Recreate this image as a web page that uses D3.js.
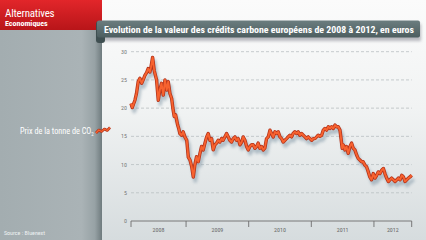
<!DOCTYPE html>
<html>
<head>
<meta charset="utf-8">
<script src="https://cdn.jsdelivr.net/npm/d3@7"></script>
<style>
  html, body { margin: 0; padding: 0; overflow: hidden; background: #fff; }
</style>
</head>
<body>
<div id="chart"></div>
<script>
// Prix de la tonne de CO2 (euros)
const dates = [
  "2008-02-15","2008-02-22","2008-03-09","2008-03-18","2008-03-28","2008-04-07","2008-04-17","2008-04-26",
  "2008-05-06","2008-05-16","2008-05-25","2008-06-04","2008-06-10","2008-06-20","2008-06-29","2008-07-13",
  "2008-07-23","2008-08-01","2008-08-11","2008-08-21","2008-08-31","2008-09-10","2008-09-19","2008-09-29",
  "2008-10-09","2008-10-16","2008-10-24","2008-11-01","2008-11-13","2008-11-20","2008-11-26","2008-12-06",
  "2008-12-15","2008-12-25",
  "2009-01-05","2009-01-14","2009-01-24","2009-02-03","2009-02-12","2009-02-21","2009-03-03","2009-03-13",
  "2009-03-23","2009-04-01","2009-04-11","2009-04-21","2009-05-01","2009-05-10","2009-05-20","2009-05-30",
  "2009-06-08","2009-06-18","2009-06-28","2009-07-07","2009-07-17","2009-07-27","2009-08-05","2009-08-15",
  "2009-08-25","2009-09-04","2009-09-13","2009-09-23","2009-10-03","2009-10-13","2009-10-22","2009-11-01",
  "2009-11-11","2009-11-21","2009-11-30","2009-12-10","2009-12-20","2009-12-29",
  "2010-01-08","2010-01-18","2010-01-27","2010-02-06","2010-02-16","2010-02-25","2010-03-07","2010-03-17",
  "2010-03-27","2010-04-05","2010-04-15","2010-04-25","2010-05-05","2010-05-14","2010-05-24","2010-06-03",
  "2010-06-13","2010-06-22","2010-07-02","2010-07-12","2010-07-21","2010-07-31","2010-08-10","2010-08-19",
  "2010-08-29","2010-09-08","2010-09-17","2010-09-27","2010-10-07","2010-10-17","2010-10-26","2010-11-05",
  "2010-11-15","2010-11-25","2010-12-04","2010-12-14","2010-12-24",
  "2011-01-03","2011-01-12","2011-01-22","2011-02-01","2011-02-10","2011-02-20","2011-03-02","2011-03-12",
  "2011-03-21","2011-03-31","2011-04-10","2011-04-19","2011-04-29","2011-05-09","2011-05-19","2011-05-28",
  "2011-06-07","2011-06-17","2011-06-22","2011-06-30","2011-07-06","2011-07-16","2011-07-25","2011-08-04",
  "2011-08-14","2011-08-24","2011-09-02","2011-09-12","2011-09-22","2011-10-01","2011-10-11","2011-10-21",
  "2011-10-30","2011-11-09","2011-11-19","2011-11-29","2011-12-08","2011-12-18","2011-12-28",
  "2012-01-07","2012-01-17","2012-01-26","2012-02-05","2012-02-15","2012-02-25","2012-03-05","2012-03-15",
  "2012-03-25","2012-04-03","2012-04-13","2012-04-23","2012-05-03","2012-05-13","2012-05-22","2012-06-01",
  "2012-06-11","2012-06-21","2012-06-30","2012-07-10","2012-07-20","2012-07-29","2012-08-08"
];
const prices = [
  20.8, 20.1, 21.4, 22.6, 24.7, 25.3, 24.4, 25.0,
  25.8, 26.3, 27.0, 26.4, 27.2, 29.0, 26.7, 25.0,
  21.4, 23.2, 24.4, 22.3, 25.0, 23.2, 24.7, 22.6,
  21.7, 20.0, 18.5, 18.8, 17.0, 16.3, 15.5, 15.2,
  15.8, 14.9,
  14.3, 11.3, 10.8, 9.6, 7.8, 9.9, 11.4, 10.5,
  12.0, 13.2, 12.6, 13.8, 14.9, 15.5, 14.3, 14.6,
  12.6, 13.5, 13.8, 14.3, 14.0, 14.6, 14.3, 14.9,
  15.5, 14.9, 14.3, 14.0, 14.6, 14.9, 14.3, 14.6,
  13.5, 14.0, 14.9, 14.3, 13.2, 12.6,
  13.2, 13.5, 13.5, 12.9, 13.2, 13.8, 12.9, 13.2,
  12.6, 12.9, 14.6, 14.9, 16.1, 15.5, 14.9, 15.8,
  15.5, 15.8, 14.9, 14.6, 14.0, 14.3, 14.6, 14.9,
  15.2, 14.9, 15.5, 15.8, 15.5, 15.8, 15.2, 15.5,
  15.2, 14.9, 14.6, 14.9, 14.6,
  14.3, 14.6, 14.6, 14.9, 15.2, 15.0, 15.2, 16.1,
  16.4, 16.1, 16.7, 16.4, 16.7, 16.4, 17.0, 16.7,
  16.7, 16.1, 14.9, 12.9, 13.5, 12.6, 13.2, 12.0,
  13.2, 13.8, 12.9, 12.6, 11.7, 11.1, 10.8, 10.5,
  10.5, 9.9, 9.6, 8.7, 7.8, 7.3, 8.4,
  7.6, 8.1, 8.7, 8.4, 9.0, 9.3, 8.4, 7.6,
  7.0, 7.3, 7.6, 7.3, 7.0, 7.3, 7.6, 7.3,
  8.1, 7.8, 7.0, 7.3, 7.6, 7.8, 8.1
];
const yTicks = [0, 5, 10, 15, 20, 25, 30];
const yearLabels = ["2008", "2009", "2010", "2011", "2012"];
const yearBounds = ["2008-02-15", "2009-01-01", "2010-01-01", "2011-01-01", "2012-01-01", "2012-08-08"];
// petit trait de légende
const legendValues = [0, 1.2, 0.6, 1.6, 1.0, 2.2];

const title = "Evolution de la valeur des crédits carbone européens de 2008 à 2012, en euros";
const seriesLabel = "Prix de la tonne de CO";
const source = "Source : Bluenext";

const W = 426, H = 240;
const narrow = "'Liberation Sans Narrow', 'Arial Narrow', 'Roboto Condensed', sans-serif";

const svg = d3.select("#chart").append("svg")
  .attr("width", W).attr("height", H)
  .style("display", "block");

const defs = svg.append("defs");

// background gradients
const bg = defs.append("linearGradient").attr("id", "bg").attr("x1", 0).attr("y1", 0).attr("x2", 0).attr("y2", 1);
bg.append("stop").attr("offset", "0%").attr("stop-color", "#fbfbfb");
bg.append("stop").attr("offset", "45%").attr("stop-color", "#f1f3f3");
bg.append("stop").attr("offset", "100%").attr("stop-color", "#d6dcde");

const side = defs.append("linearGradient").attr("id", "side").attr("x1", 0).attr("y1", 0).attr("x2", 1).attr("y2", 0);
side.append("stop").attr("offset", "0%").attr("stop-color", "#a3adb0");
side.append("stop").attr("offset", "80%").attr("stop-color", "#aab3b6");
side.append("stop").attr("offset", "93%").attr("stop-color", "#97a2a5");
side.append("stop").attr("offset", "100%").attr("stop-color", "#6f7b7e");

const red = defs.append("linearGradient").attr("id", "red").attr("x1", 0).attr("y1", 0).attr("x2", 0).attr("y2", 1);
red.append("stop").attr("offset", "0%").attr("stop-color", "#e2262a");
red.append("stop").attr("offset", "100%").attr("stop-color", "#b81519");

const bar = defs.append("linearGradient").attr("id", "bar").attr("x1", 0).attr("y1", 0).attr("x2", 0).attr("y2", 1);
bar.append("stop").attr("offset", "0%").attr("stop-color", "#6b7d7f");
bar.append("stop").attr("offset", "100%").attr("stop-color", "#4d5e60");

const blur = defs.append("filter").attr("id", "blur").attr("x", "-10%").attr("y", "-20%").attr("width", "120%").attr("height", "140%");
blur.append("feGaussianBlur").attr("stdDeviation", 1.6);

svg.append("rect").attr("width", W).attr("height", H).attr("fill", "url(#bg)");
svg.append("rect").attr("x", 0).attr("y", 0).attr("width", 102).attr("height", H).attr("fill", "url(#side)");
svg.append("rect").attr("x", 0).attr("y", 0).attr("width", 102).attr("height", 30).attr("fill", "url(#red)");

// logo
svg.append("text").attr("x", 5).attr("y", 16.5)
  .attr("font-family", narrow).attr("font-size", 11).attr("fill", "#fff")
  .attr("letter-spacing", -0.2)
  .text("Alternatives");
svg.append("text").attr("x", 5).attr("y", 25.5)
  .attr("font-family", narrow).attr("font-size", 8).attr("font-weight", "bold").attr("fill", "#fff")
  .text("Economiques");

// title ribbon
svg.append("rect").attr("x", 99).attr("y", 24).attr("width", 322).attr("height", 17)
  .attr("fill", "#445").attr("opacity", 0.35).attr("filter", "url(#blur)");
svg.append("rect").attr("x", 96).attr("y", 21).attr("width", 9).attr("height", 22).attr("rx", 3)
  .attr("fill", "#3f4f51");
svg.append("rect").attr("x", 97).attr("y", 20.5).attr("width", 323).attr("height", 17).attr("rx", 2)
  .attr("fill", "url(#bar)");
svg.append("text").attr("x", 104).attr("y", 32.5)
  .attr("font-family", narrow).attr("font-size", 9.8)
  .attr("font-weight", "bold").attr("fill", "#fff")
  .attr("textLength", 310).attr("lengthAdjust", "spacingAndGlyphs")
  .text(title);

// scales
const parse = d3.timeParse("%Y-%m-%d");
const data = dates.map((d, i) => ({ date: parse(d), value: prices[i] }));
const bounds = yearBounds.map(parse);

const x = d3.scaleTime()
  .domain([bounds[0], bounds[bounds.length - 1]])
  .range([131, 411.7]);
const y = d3.scaleLinear()
  .domain([0, 30])
  .range([221, 51.7]);

// grid lines
const grid = svg.append("g");
grid.selectAll("line")
  .data(yTicks.filter(d => d > 0))
  .join("line")
  .attr("x1", 131).attr("x2", 411.7)
  .attr("y1", d => y(d)).attr("y2", d => y(d))
  .attr("stroke", "#b9bfc1").attr("stroke-width", 0.8)
  .attr("stroke-dasharray", "3,2");

// y labels
svg.append("g").selectAll("text")
  .data(yTicks)
  .join("text")
  .attr("x", 127).attr("y", d => y(d) + 2)
  .attr("text-anchor", "end")
  .attr("font-family", narrow).attr("font-size", 6).attr("fill", "#777")
  .text(d => d);

// x axis
const xAxis = svg.append("g").attr("transform", `translate(0,${y(0)})`);
xAxis.append("line").attr("x1", x(bounds[0])).attr("x2", x(bounds[bounds.length - 1]))
  .attr("stroke", "#6d6d6d").attr("stroke-width", 0.9);
xAxis.selectAll(".tk")
  .data(bounds)
  .join("line")
  .attr("class", "tk")
  .attr("x1", d => x(d)).attr("x2", d => x(d))
  .attr("y1", 0).attr("y2", 6)
  .attr("stroke", "#6d6d6d").attr("stroke-width", 0.9);
xAxis.selectAll(".yl")
  .data(yearLabels)
  .join("text")
  .attr("class", "yl")
  .attr("x", (d, i) => (x(bounds[i]) + x(bounds[i + 1])) / 2)
  .attr("y", 11)
  .attr("text-anchor", "middle")
  .attr("font-family", narrow).attr("font-size", 6).attr("fill", "#666")
  .text(d => d);

// price line: shadow, outline, core
const line = d3.line()
  .x(d => x(d.date))
  .y(d => y(d.value));

svg.append("path").datum(data)
  .attr("d", line)
  .attr("transform", "translate(2,4)")
  .attr("fill", "none").attr("stroke", "#7d93a3").attr("stroke-width", 3.5)
  .attr("stroke-linejoin", "round").attr("opacity", 0.55)
  .attr("filter", "url(#blur)");
svg.append("path").datum(data)
  .attr("d", line)
  .attr("fill", "none").attr("stroke", "#b2321a").attr("stroke-width", 3.4)
  .attr("stroke-linejoin", "round");
svg.append("path").datum(data)
  .attr("d", line)
  .attr("fill", "none").attr("stroke", "#f7622f").attr("stroke-width", 1.9)
  .attr("stroke-linejoin", "round");

// series label
const lab = svg.append("text").attr("x", 20).attr("y", 133.5)
  .attr("font-family", narrow).attr("font-size", 8.2).attr("fill", "#fff");
lab.append("tspan").text(seriesLabel);
lab.append("tspan").attr("font-size", 5).attr("dy", 2).text("2");

const lx = d3.scaleLinear().domain([0, legendValues.length - 1]).range([96, 110]);
const ly = d3.scaleLinear().domain([0, 2.2]).range([133, 127.5]);
const legLine = d3.line().x((d, i) => lx(i)).y(d => ly(d));
svg.append("path").datum(legendValues).attr("d", legLine)
  .attr("fill", "none").attr("stroke", "#b2321a").attr("stroke-width", 2.6).attr("stroke-linejoin", "round");
svg.append("path").datum(legendValues).attr("d", legLine)
  .attr("fill", "none").attr("stroke", "#f7622f").attr("stroke-width", 1.3).attr("stroke-linejoin", "round");

// source
svg.append("text").attr("x", 4).attr("y", 235)
  .attr("font-family", narrow).attr("font-size", 6).attr("fill", "#eef1f2")
  .text(source);
</script>
</body>
</html>
